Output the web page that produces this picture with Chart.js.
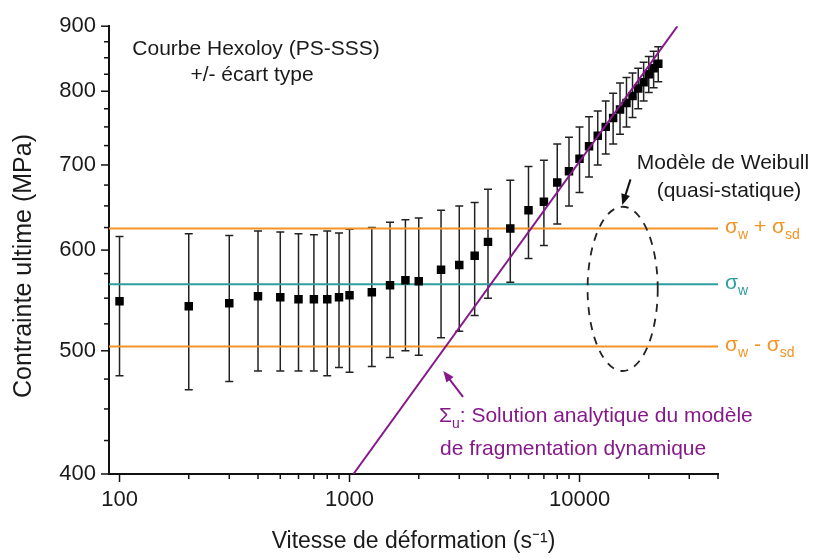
<!DOCTYPE html>
<html>
<head>
<meta charset="utf-8">
<script src="https://cdn.jsdelivr.net/npm/chart.js@4.4.1/dist/chart.umd.min.js"></script>
<style>
  html, body { margin: 0; padding: 0; background: #fff; }
</style>
</head>
<body>
<canvas id="chart" width="814" height="559"></canvas>
<script>
// vitesse de déformation (s-1) et contrainte ultime (MPa)
const vitesse = [100, 200, 300, 400, 500, 600, 700, 800, 900, 1000, 1250, 1500, 1750, 2000, 2500, 3000, 3500, 4000, 5000, 6000, 7000, 8000, 9000, 10000, 11000, 12000, 13000, 14000, 15000, 16000, 17000, 18000, 19000, 20000, 21000, 22000];
const contrainte = [547, 542, 545, 552, 551, 549, 549, 549, 551, 553, 556, 563, 568, 567, 579, 584, 594, 609, 624, 645, 655, 678, 692, 708, 724, 738, 750, 762, 774, 783, 793, 804, 813, 825, 834, 841];
const ecartHaut = [615, 618, 616, 621, 620, 618, 617, 621, 619, 623, 625, 631, 634, 636, 645, 650, 654, 670, 681, 698, 706, 727, 736, 750, 764, 772, 786, 797, 812, 820, 827, 834, 843, 852, 860, 867];
const ecartBas = [478, 466, 473, 482, 482, 482, 482, 478, 485, 481, 486, 494, 500, 496, 512, 518, 533, 550, 566, 591, 605, 629, 650, 666, 685, 700, 714, 727, 740, 750, 763, 775, 786, 798, 805, 814];

// modèle de Weibull
const sigmaW = 564;
const sigmaSd = 60;

// solution analytique (droite en log-log)
const solutionX = [1040, 26650];
const solutionY = [400, 900];

// axes
const xMin = 90, xMax = 40000;
const yMin = 400, yMax = 900;
const xTicks = [100, 200, 300, 400, 500, 600, 700, 800, 900, 1000, 2000, 3000, 4000, 5000, 6000, 7000, 8000, 9000, 10000, 20000, 30000, 40000];
const xLabels = [100, 1000, 10000];
const yTicks = [400, 425, 450, 475, 500, 525, 550, 575, 600, 625, 650, 675, 700, 725, 750, 775, 800, 825, 850, 875, 900];
const yLabels = [400, 500, 600, 700, 800, 900];

const ORANGE = "#F39325";
const TEAL = "#2E9E9E";
const PURPLE = "#86198A";
const FONT = "'Liberation Sans', Arial, sans-serif";

const points = vitesse.map((v, i) => ({ x: v, y: contrainte[i] }));
const solution = solutionX.map((v, i) => ({ x: v, y: solutionY[i] }));
const hline = (y) => [{ x: xMin, y: y }, { x: xMax, y: y }];

function arrow(ctx, x1, y1, x2, y2, color) {
    const a = Math.atan2(y2 - y1, x2 - x1);
    ctx.strokeStyle = color;
    ctx.fillStyle = color;
    ctx.lineWidth = 2;
    ctx.beginPath();
    ctx.moveTo(x1, y1);
    ctx.lineTo(x2 - 6 * Math.cos(a), y2 - 6 * Math.sin(a));
    ctx.stroke();
    ctx.beginPath();
    ctx.moveTo(x2, y2);
    ctx.lineTo(x2 - 11 * Math.cos(a) + 4.5 * Math.sin(a), y2 - 11 * Math.sin(a) - 4.5 * Math.cos(a));
    ctx.lineTo(x2 - 11 * Math.cos(a) - 4.5 * Math.sin(a), y2 - 11 * Math.sin(a) + 4.5 * Math.cos(a));
    ctx.closePath();
    ctx.fill();
}

// texte avec indices : parts = [[texte, indice?], ...]
function subText(ctx, x, y, parts, color) {
    ctx.fillStyle = color;
    ctx.textAlign = "left";
    ctx.textBaseline = "alphabetic";
    parts.forEach((p) => {
        ctx.font = (p[1] ? "14px " : "21px ") + FONT;
        ctx.fillText(p[0], x, p[1] ? y + 6 : y);
        x += ctx.measureText(p[0]).width;
    });
}

const decor = {
    id: "decor",
    beforeDatasetsDraw(chart) {
        const { ctx, scales: { x, y }, chartArea } = chart;
        ctx.save();
        ctx.beginPath();
        ctx.rect(chartArea.left, chartArea.top, chartArea.right - chartArea.left, chartArea.bottom - chartArea.top);
        ctx.clip();
        ctx.strokeStyle = "#222";
        ctx.lineWidth = 1.5;
        vitesse.forEach((v, i) => {
            const px = x.getPixelForValue(v);
            const top = y.getPixelForValue(ecartHaut[i]);
            const bot = y.getPixelForValue(ecartBas[i]);
            ctx.beginPath();
            ctx.moveTo(px, top); ctx.lineTo(px, bot);
            ctx.moveTo(px - 4, top); ctx.lineTo(px + 4, top);
            ctx.moveTo(px - 4, bot); ctx.lineTo(px + 4, bot);
            ctx.stroke();
        });
        ctx.restore();
    },
    afterDraw(chart) {
        const { ctx, scales: { x, y }, chartArea } = chart;
        ctx.save();
        // graduations
        ctx.strokeStyle = "#111";
        ctx.lineWidth = 1.5;
        x.ticks.forEach((t) => {
            const px = x.getPixelForValue(t.value);
            const len = xLabels.includes(t.value) ? 8 : 5;
            ctx.beginPath();
            ctx.moveTo(px, chartArea.bottom);
            ctx.lineTo(px, chartArea.bottom + len);
            ctx.stroke();
        });
        y.ticks.forEach((t) => {
            const py = y.getPixelForValue(t.value);
            const len = yLabels.includes(t.value) ? 8 : 5;
            ctx.beginPath();
            ctx.moveTo(chartArea.left, py);
            ctx.lineTo(chartArea.left - len, py);
            ctx.stroke();
        });

        // titre de l'axe y
        ctx.save();
        ctx.translate(24, 266);
        ctx.rotate(-Math.PI / 2);
        ctx.font = "25px " + FONT;
        ctx.fillStyle = "#1a1a1a";
        ctx.textAlign = "center";
        ctx.textBaseline = "middle";
        ctx.fillText("Contrainte ultime (MPa)", 0, 0);
        ctx.restore();

        // textes
        ctx.font = "21px " + FONT;
        ctx.fillStyle = "#1a1a1a";
        ctx.textAlign = "center";
        ctx.textBaseline = "middle";
        ctx.fillText("Courbe Hexoloy (PS-SSS)", 256, 49);
        ctx.fillText("+/- écart type", 252, 75);
        ctx.fillText("Modèle de Weibull", 723, 163);
        ctx.fillText("(quasi-statique)", 729, 191);

        // ellipse de Weibull
        const cx = x.getPixelForValue(15400);
        const ex = (x.getPixelForValue(21800) - x.getPixelForValue(10800)) / 2;
        const top = y.getPixelForValue(649), bot = y.getPixelForValue(482);
        ctx.strokeStyle = "#222";
        ctx.lineWidth = 1.8;
        ctx.setLineDash([8, 7]);
        ctx.beginPath();
        ctx.ellipse(cx, (top + bot) / 2, ex, (bot - top) / 2, 0, 0, Math.PI * 2);
        ctx.stroke();
        ctx.setLineDash([]);
        arrow(ctx, x.getPixelForValue(16660), y.getPixelForValue(682), x.getPixelForValue(15340), y.getPixelForValue(651), "#111");
        arrow(ctx, x.getPixelForValue(3115), y.getPixelForValue(460), x.getPixelForValue(2557), y.getPixelForValue(482), PURPLE);

        // étiquettes à droite
        const rx = chartArea.right + 7;
        subText(ctx, rx, y.getPixelForValue(sigmaW + sigmaSd) + 5, [["σ"], ["w", 1], [" + σ"], ["sd", 1]], ORANGE);
        subText(ctx, rx, y.getPixelForValue(sigmaW) + 5, [["σ"], ["w", 1]], TEAL);
        subText(ctx, rx, y.getPixelForValue(sigmaW - sigmaSd) + 5, [["σ"], ["w", 1], [" - σ"], ["sd", 1]], ORANGE);

        // légende de la solution analytique
        subText(ctx, 439, 422, [["Σ"], ["u", 1], [": Solution analytique du modèle"]], PURPLE);
        subText(ctx, 440, 455, [["de fragmentation dynamique"]], PURPLE);
        ctx.restore();
    },
};

const ctx = document.querySelector("#chart").getContext("2d");
const chart = new Chart(ctx, {
    type: "scatter",
    data: {
        datasets: [
            {
                label: "Solution analytique",
                data: solution,
                showLine: true,
                borderColor: PURPLE,
                borderWidth: 2,
                pointRadius: 0,
            },
            {
                label: "Courbe Hexoloy",
                data: points,
                pointStyle: "rect",
                pointRadius: 6,
                pointBackgroundColor: "#000",
                pointBorderWidth: 0,
            },
            {
                label: "σw + σsd",
                data: hline(sigmaW + sigmaSd),
                showLine: true,
                borderColor: ORANGE,
                borderWidth: 2,
                pointRadius: 0,
            },
            {
                label: "σw",
                data: hline(sigmaW),
                showLine: true,
                borderColor: TEAL,
                borderWidth: 2,
                pointRadius: 0,
            },
            {
                label: "σw - σsd",
                data: hline(sigmaW - sigmaSd),
                showLine: true,
                borderColor: ORANGE,
                borderWidth: 2,
                pointRadius: 0,
            },
        ],
    },
    options: {
        responsive: false,
        animation: false,
        layout: { padding: { top: 23, right: 96, left: 0, bottom: 0 } },
        plugins: {
            legend: { display: false },
            tooltip: { enabled: false },
        },
        scales: {
            x: {
                type: "logarithmic",
                min: xMin,
                max: xMax,
                afterBuildTicks: (s) => { s.ticks = xTicks.map((v) => ({ value: v })); },
                afterFit: (s) => { s.height = 85; },
                ticks: {
                    autoSkip: false,
                    maxRotation: 0,
                    padding: 13,
                    color: "#1a1a1a",
                    font: { size: 22, family: FONT },
                    callback: (v) => (xLabels.includes(v) ? String(v) : ""),
                },
                grid: { drawOnChartArea: false, drawTicks: false },
                border: { display: true, color: "#111", width: 2 },
                title: {
                    display: true,
                    text: "Vitesse de déformation (s⁻¹)",
                    color: "#1a1a1a",
                    font: { size: 23, family: FONT },
                    padding: { top: 0, bottom: 4 },
                },
            },
            y: {
                type: "logarithmic",
                min: yMin,
                max: yMax,
                afterBuildTicks: (s) => { s.ticks = yTicks.map((v) => ({ value: v })); },
                afterFit: (s) => { s.width = 109; },
                ticks: {
                    autoSkip: false,
                    padding: 13,
                    color: "#1a1a1a",
                    font: { size: 22, family: FONT },
                    callback: (v) => (yLabels.includes(v) ? String(v) : ""),
                },
                grid: { drawOnChartArea: false, drawTicks: false },
                border: { display: true, color: "#111", width: 2 },
            },
        },
    },
    plugins: [decor],
});
</script>
</body>
</html>
